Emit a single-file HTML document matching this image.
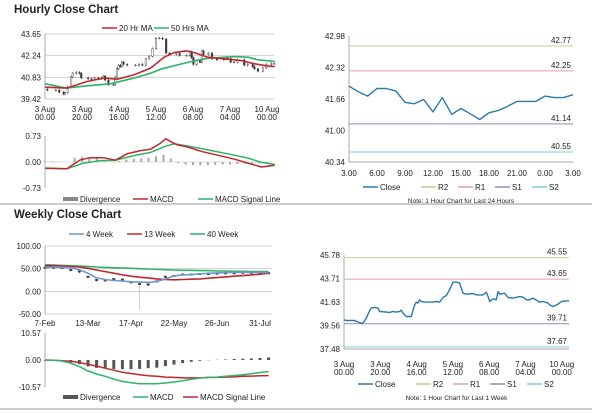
<!DOCTYPE html>
<html><head><meta charset="utf-8"><style>
body{margin:0;background:#fff;width:600px;height:413px;overflow:hidden;font-family:"Liberation Sans",sans-serif}
svg{position:absolute;left:0;top:0}
text{font-family:"Liberation Sans",sans-serif;font-size:8px;fill:#222}
</style></head><body>
<svg id="s" width="600" height="413">
<text x="14" y="13" style="font-size:11.5px;font-weight:bold">Hourly Close Chart</text>
<text x="14" y="218" style="font-size:11.5px;font-weight:bold">Weekly Close Chart</text>
<line x1="0" y1="204" x2="592" y2="204" stroke="#999"/>
<line x1="0" y1="409" x2="592" y2="409" stroke="#999"/>
</svg>
<script>
// ---- data ----
const hTime=[0,1.3,5.9,7.7,10.1,10.8,12.3,14.1,15.0,16.9,18.7,19.6,23.3,25.1,26.9,28.8,30.6,31.5,32.5,34.3,37.0,37.9,38.9,39.8,40.7,41.6,42.5,44.4,49.0,50.8,52.6,54.5,56.3,58.1,60.0,61.8,63.6,65.5,67.3,71.0,72.8,76.5,78.3,79.3,80.2,82.0,83.8,84.8,85.7,88.4,90.3,93.0,96.7,98.5,100.4,102.2,104.0,107.7,109.6,112.3,113.2,115.1,117.8,119.6,122.4,123.9];
const hClose=[40.06,40.0,40.0,39.86,39.74,39.83,40.21,40.85,41.09,41.15,41.09,40.79,40.74,40.71,40.79,40.74,40.79,40.91,40.65,40.35,40.35,40.85,41.38,41.62,41.53,41.82,41.67,41.62,41.62,41.67,41.62,42.03,42.20,42.70,43.38,43.38,43.32,42.41,42.32,42.38,42.26,42.26,42.50,42.11,41.67,41.91,41.82,42.55,42.32,42.41,42.03,41.97,42.11,42.06,41.82,41.82,41.97,41.62,41.67,41.53,41.38,41.23,41.44,41.67,41.73,41.73];
const ma20T=[0,11.8,22.7,31.7,39.0,48.0,57.1,64.4,69.8,76.2,80.7,88.0,98.8,106.1,113.3,119.6,124.2];
const ma20V=[40.19,40.13,40.56,40.78,40.71,40.99,41.43,42.14,42.44,42.55,42.44,42.14,42.01,41.92,41.71,41.58,41.53];
const ma50T=[0,11.8,22.7,35.3,48.0,57.1,62.5,71.6,80.7,88.0,102.5,109.7,115.2,124.2];
const ma50V=[40.41,40.13,40.28,40.41,40.78,41.10,41.36,41.64,41.90,42.07,42.18,42.14,41.97,41.86];
const hMacdT=[0,11.8,19.0,24.5,31.7,38.1,44.4,51.7,57.1,62.5,65.3,68.0,71.6,77.1,84.3,93.4,102.5,109.7,117.0,124.2];
const hMacdV=[-0.17,-0.19,0.06,0.12,0.12,0.05,0.23,0.32,0.36,0.53,0.65,0.57,0.48,0.42,0.30,0.19,0.08,-0.03,-0.14,-0.09];
const hSigT=[0,11.8,20.8,29.9,38.1,48.0,57.1,64.4,69.8,77.1,88.0,98.8,109.7,117.0,124.2];
const hSigV=[-0.18,-0.19,-0.03,0.04,0.05,0.18,0.27,0.43,0.51,0.45,0.34,0.23,0.11,-0.01,-0.07];
const hDiv=[0.02,0.02,0.01,0.0,0.12,0.15,0.14,0.10,0.06,0.01,0.03,0.07,0.09,0.10,0.12,0.16,0.20,0.10,-0.03,-0.07,-0.09,-0.10,-0.09,-0.08,-0.07,-0.07,-0.06,-0.05,-0.05,-0.04,-0.02];
const hTicks=["3 Aug|00.00","3 Aug|20.00","4 Aug|16.00","5 Aug|12.00","6 Aug|08.00","7 Aug|04.00","10 Aug|00.00"];
const dayClose=[41.93,41.81,41.72,41.88,41.88,41.83,41.59,41.56,41.65,41.39,41.69,41.34,41.46,41.35,41.23,41.37,41.42,41.51,41.61,41.61,41.61,41.72,41.69,41.69,41.75];
const dayTicks=["3.00","6.00","9.00","12.00","15.00","18.00","21.00","0.00","3.00"];
const dayYTicks=[40.34,41.00,41.66,42.32,42.98];
const weekYTicks=[37.48,39.56,41.63,43.71,45.78];
const dayLevels=[42.77,42.25,41.14,40.55];
const weekLevels=[45.55,43.65,39.71,37.67];
const levelNames=["R2","R1","S1","S2"];
const w4=[52.9,53.6,52.9,52.2,47.8,39.9,29.7,26,23.9,22.5,21,20.3,19.6,21.7,27.5,34,36.2,37,38.4,39.9,40.6,41.3,42,42,42,42,41.3];
const w13=[56.5,56.5,55.8,55.1,53.6,50.7,47.1,43.5,39.9,36.2,33.3,31.2,29.7,27.5,26.1,25.4,26.1,26.8,27.5,29,30.4,31.9,33.3,34.8,36.2,37.7,39.9];
const w40=[58.7,58,57.2,56.5,55.8,55.1,53.6,52.9,52.2,51.4,50.7,50,49.3,48.6,47.8,47.1,46.4,46.4,45.7,45.7,44.9,44.9,44.2,44.2,43.5,43.5,43.5];
const wClose=[52,52,52,47,44,32,25,24,27,26,20,16,15,22,32,34,37,37,38,38,39,40,40,41,41,41,40];
const wLow=[50,50,49,44,40,29,22,22,25,24,17,-40,12,19,30,32,35,35,36,36,37,38,38,39,39,39,38];
const wMacd=[0,-0.1,-0.4,-1.3,-2.6,-4.3,-5.5,-6.4,-7.5,-8.4,-8.9,-9.3,-9.3,-9.3,-9.0,-8.6,-8.1,-7.5,-7.1,-6.8,-6.7,-6.4,-6.1,-5.8,-5.4,-4.9,-4.5];
const wSig=[0,-0.1,-0.3,-0.5,-1.0,-1.7,-2.4,-3.2,-4.0,-4.8,-5.3,-5.8,-6.2,-6.4,-6.7,-6.8,-7.0,-7.0,-7.0,-6.8,-6.8,-6.7,-6.6,-6.4,-6.3,-6.2,-6.1];
const wDiv=[-0.2,-0.3,-0.5,-1.0,-1.6,-2.5,-3.1,-3.3,-3.5,-3.6,-3.6,-3.5,-3.2,-3.0,-2.4,-1.8,-1.2,-0.7,-0.3,-0.1,0.1,0.2,0.4,0.5,0.6,0.8,1.0];
const wTicks=["7-Feb","13-Mar","17-Apr","22-May","26-Jun","31-Jul"];

// ---- helpers ----
const S=document.getElementById('s');const NS='http://www.w3.org/2000/svg';
function mk(tag,a,txt){const e=document.createElementNS(NS,tag);for(const k in a)e.setAttribute(k,a[k]);if(txt!==undefined)e.textContent=txt;S.appendChild(e);return e;}
function lin(d0,d1,r0,r1){return v=>r0+(v-d0)*(r1-r0)/(d1-d0);}
function poly(xs,ys,fx,fy,col,w){return mk('polyline',{points:xs.map((x,i)=>fx(x).toFixed(1)+','+fy(ys[i]).toFixed(1)).join(' '),fill:'none',stroke:col,'stroke-width':w||1.5,'stroke-linejoin':'round'});}
function yAxis(vals,fy,x0,x1,grid,fmt){vals.forEach(v=>{if(grid){const g=mk('line',{x1:x0,x2:x1,y1:fy(v),y2:fy(v),stroke:'#bbb','stroke-width':0.7});

}
const t=mk('text',{x:x0-4,y:fy(v)+3,'text-anchor':'end'},fmt(v));

});
const a=mk('line',{x1:x0,x2:x0,y1:fy(vals[0]),y2:fy(vals[vals.length-1]),stroke:'#888','stroke-width':0.7});

}
function xLabels(labels,fx,y){labels.forEach((l,i)=>{const p=l.split('|');const t=mk('text',{x:fx(i),y:y,'text-anchor':'middle'},p[0]);


if(p[1]){const t2=mk('text',{x:fx(i),y:y+8,'text-anchor':'middle'},p[1]);

}});}
function legend(x,y,col,label,thick){const l=mk('line',{x1:x,x2:x+15,y1:y,y2:y,stroke:col,'stroke-width':thick||1.5});


const t=mk('text',{x:x+17,y:y+3},label);

}
const RED='#c0282d',GRN='#2db36a',BLUE='#2a78b0';

// ---- hourly price chart ----
{const fx=lin(0,120,45,267),fy=lin(39.42,43.65,99,34);
yAxis([39.42,40.83,42.24,43.65],fy,45,274,true,v=>v.toFixed(2));
xLabels(hTicks,i=>45+i*37,112);
hTime.forEach((t,i)=>{if(i===0)return;const o=hClose[i-1],c=hClose[i];const top=Math.max(o,c)+0.08,bot=Math.min(o,c)-0.08;
const w=mk('line',{x1:fx(t),x2:fx(t),y1:fy(top),y2:fy(bot),stroke:'#222','stroke-width':0.6});


const b=mk('rect',{x:fx(t)-0.8,y:fy(Math.max(o,c)),width:1.6,height:Math.max(0.6,fy(Math.min(o,c))-fy(Math.max(o,c))),fill:c>=o?'#fff':'#333',stroke:'#333','stroke-width':0.4});

});
const g=poly(ma50T,ma50V,fx,fy,GRN,1.6);


const r=poly(ma20T,ma20V,fx,fy,RED,1.6);


legend(102,28,RED,'20 Hr MA');legend(154,28,GRN,'50 Hrs MA');}

// ---- hourly MACD ----
{const fx=lin(0,120,45,267),fy=lin(-0.73,0.73,188,136);
yAxis([-0.73,0,0.73],fy,45,274,false,v=>v.toFixed(2));
const z=mk('line',{x1:45,x2:274,y1:fy(0),y2:fy(0),stroke:'#bbb','stroke-width':0.6});


hDiv.forEach((v,i)=>{const x=fx(i*4);const b=mk('rect',{x:x-1,y:Math.min(fy(v),fy(0)),width:2,height:Math.abs(fy(v)-fy(0)),fill:'#aaa'});

});
const g=poly(hSigT,hSigV,fx,fy,GRN,1.5);


const r=poly(hMacdT,hMacdV,fx,fy,RED,1.5);


legend(63,199,'#888','Divergence',4);legend(133,199,RED,'MACD');legend(198,199,GRN,'MACD Signal Line');}

// ---- levels charts ----
const LCOL=['#c8c890','#e0a0a0','#9a88b8','#88c8dc'];
function levelChart(x0,x1,yLo,yHi,vLo,vHi,tv,levels,pxs,xs,vals,xlab,xlabY,legY,note,noteY){
const fy=lin(vLo,vHi,yLo,yHi);
yAxis(tv,fy,x0,x1,false,v=>v.toFixed(2));
const ax=mk('line',{x1:x0,x2:x1,y1:yLo,y2:yLo,stroke:'#888','stroke-width':0.7});


levels.forEach((v,i)=>{const l=mk('line',{x1:x0,x2:x1,y1:fy(v),y2:fy(v),stroke:LCOL[i],'stroke-width':1});


const t=mk('text',{x:x1-2,y:fy(v)-3,'text-anchor':'end'},v.toFixed(2));

});
xLabels(xlab,pxs,xlabY);
const p=poly(xs,vals,xs.fx,fy,BLUE,1.4);


legend(x0+14,legY,BLUE,'Close');
levelNames.forEach((n,i)=>legend(x0+72+i*37,legY,LCOL[i],n));
const nt=mk('text',{x:(x0+x1)/2,y:noteY,'text-anchor':'middle',style:'font-size:6.5px'},note);

}
{const idx=dayClose.map((v,i)=>i);idx.fx=lin(0,24,349,573);
levelChart(349,573,162,36,40.34,42.98,dayYTicks,dayLevels,i=>349+i*28,idx,dayClose,dayTicks,176,187,'Note: 1 Hour Chart for Last 24 Hours',203);}
{const t=hTime.slice();t.fx=lin(0,120,344,562);
levelChart(344,569,349,255,37.48,45.78,weekYTicks,weekLevels,i=>344+i*36.3,t,hClose,hTicks,367,384,'Note: 1 Hour Chart for Last 1 Week',400);}

// ---- weekly MA chart ----
{const fx=lin(0,25,45,260),fy=lin(-50,100,314,246);const wk=w4.map((v,i)=>i);
yAxis([-50,0,50,100],fy,45,272,true,v=>v.toFixed(2));
xLabels(wTicks,i=>45+i*43,326);
wk.forEach(i=>{const l=mk('line',{x1:fx(i),x2:fx(i),y1:fy(wClose[i]+2),y2:fy(wLow[i]),stroke:i===11?'#bbb':'#333','stroke-width':0.7});


const b=mk('rect',{x:fx(i)-1.5,y:fy(wClose[i])-1,width:3,height:2,fill:'#444'});

});
const g=poly(wk,w40,fx,fy,GRN,1.6);


const r=poly(wk,w13,fx,fy,RED,1.6);


const b=poly(wk,w4,fx,fy,'#6a9ad0',1.6);


legend(69,234,'#6a9ad0','4 Week');legend(127,234,RED,'13 Week');legend(190,234,GRN,'40 Week');}

// ---- weekly MACD ----
{const fx=lin(0,25,45,260),fy=lin(-10.57,10.57,387,333);const wk=wMacd.map((v,i)=>i);
yAxis([-10.57,0,10.57],fy,45,272,false,v=>v.toFixed(2));
wDiv.forEach((v,i)=>{const b=mk('rect',{x:fx(i)-1.5,y:Math.min(fy(v),fy(0)),width:3,height:Math.abs(fy(v)-fy(0)),fill:'#555'});

});
const r=poly(wk,wSig,fx,fy,RED,1.5);


const g=poly(wk,wMacd,fx,fy,GRN,1.5);


legend(63,397,'#555','Divergence',4);legend(133,397,GRN,'MACD');legend(183,397,RED,'MACD Signal Line');}
</script>
</body></html>
